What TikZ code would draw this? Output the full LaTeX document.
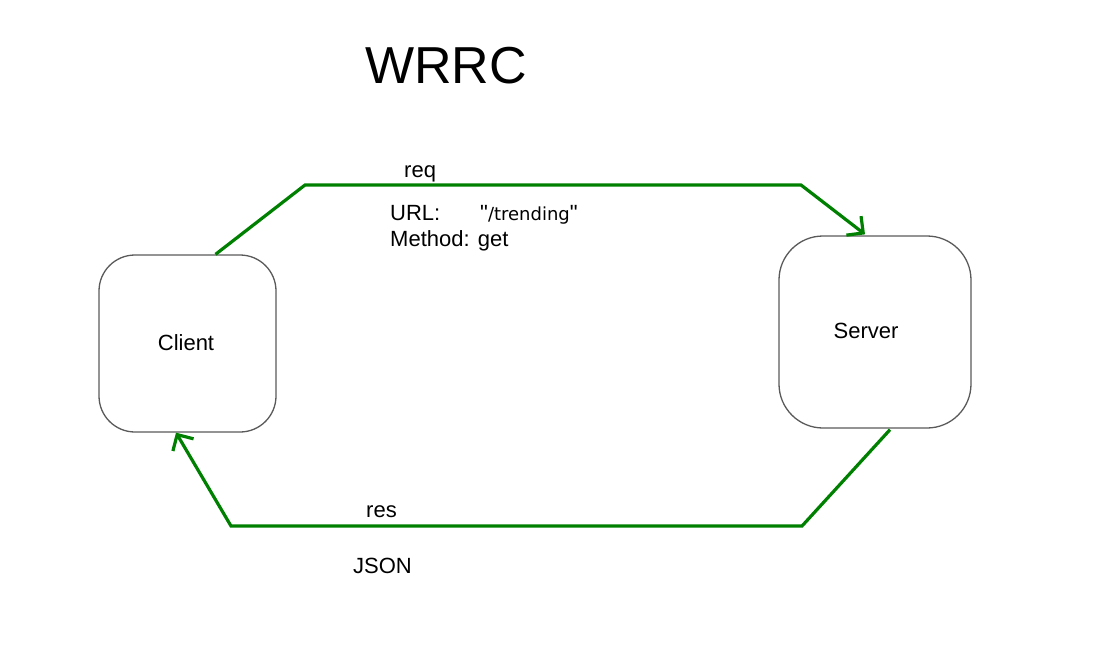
\documentclass[tikz,border=0pt]{standalone}
\usepackage{fontspec}
\setmainfont{Liberation Sans}
\newfontfamily\plainsans{Liberation Sans}[Ligatures=TeXOff]
\newfontfamily\dejavu{DejaVu Sans}
\usetikzlibrary{arrows.meta,calc}
\definecolor{flowgreen}{RGB}{0,128,0}
\definecolor{boxgray}{RGB}{90,90,90}
\tikzset{
  box/.style={draw=boxgray, line width=1.3pt, fill=white, inner sep=0pt},
  flow/.style={draw=flowgreen, line width=3.2pt, line join=miter, -{Straight Barb[length=12pt,width=24pt]}},
  lbl/.style={inner sep=0pt, font=\fontsize{22}{26}\selectfont},
}
\begin{document}
\begin{tikzpicture}[x=1pt,y=-1pt]
\useasboundingbox (0,0) rectangle (1095,656);
\node[box, rounded corners=36pt, minimum width=177pt, minimum height=177pt] (client) at (187.5,343.5) {};
\node[box, rounded corners=44pt, minimum width=192pt, minimum height=192pt] (server) at (875,332) {};
\node[lbl, anchor=base] (clientlbl) at (186,350) {Client};
\node[lbl, anchor=base] (serverlbl) at (866,338) {Server};
\node[inner sep=0pt, anchor=base, font=\fontsize{52}{60}\selectfont] (title) at (446,83) {WRRC};
\coordinate (t1) at (305,185);
\coordinate (t2) at (801,185);
\coordinate (b1) at (802,526);
\coordinate (b2) at (231,526);
\draw[flow] ([xshift=28pt]client.north) -- (t1) -- (t2) -- ([xshift=-10pt,yshift=1pt]server.north);
\draw[flow] ([xshift=15pt,yshift=-1pt]server.south) -- (b1) -- (b2) -- ([xshift=-11.5pt]client.south);
\node[lbl, anchor=base west] (req) at (404,177) {req};
\node[lbl, anchor=base west] (url) at (390,220) {URL:};
\node[lbl, anchor=base west] (trend) at (480,220) {{\plainsans "}{\dejavu\fontsize{18}{20}\selectfont /trending}{\plainsans "}};
\node[lbl, anchor=base west] (method) at (390,246) {Method: get};
\node[lbl, anchor=base west] (res) at (366,517) {res};
\node[lbl, anchor=base west] (json) at (353,573) {JSON};
\end{tikzpicture}
\end{document}
